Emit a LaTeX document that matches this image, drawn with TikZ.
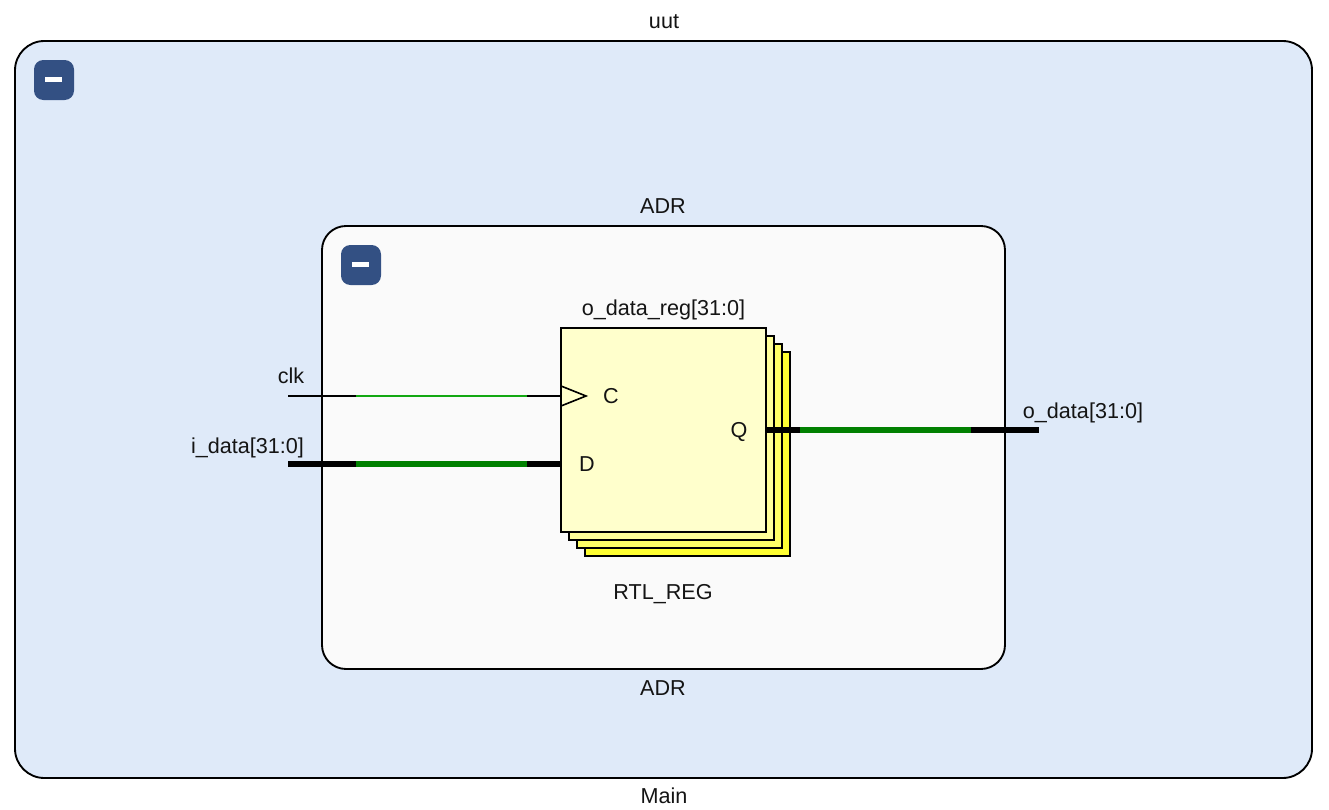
\documentclass[tikz,border=0pt]{standalone}
\usepackage{fontspec}
\setmainfont{Liberation Sans}
\definecolor{outerfill}{HTML}{DFEAF9}
\definecolor{innerfill}{HTML}{FAFAFA}
\definecolor{btn}{HTML}{335083}
\definecolor{reg1}{HTML}{FFFFCC}
\definecolor{reg2}{HTML}{FFFF99}
\definecolor{reg3}{HTML}{FFFF66}
\definecolor{reg4}{HTML}{FFFF33}
\definecolor{netthin}{HTML}{12A812}
\definecolor{netbus}{HTML}{008000}
\tikzset{
  x=0.75pt,y=-0.75pt,
  lbl/.style={font=\fontsize{16.2}{19}\selectfont,inner sep=0pt,text=black!92},
  group/.style={draw=black,line width=1.4pt},
  regbox/.style={draw=black,line width=1.5pt},
  wirethin/.style={line width=1.5pt,draw=black},
  wirebus/.style={line width=4.5pt,draw=black},
  greenthin/.style={line width=1.5pt,draw=netthin},
  greenbus/.style={line width=4.5pt,draw=netbus},
  btnbox/.style={fill=btn,rounded corners=7pt},
  btnbar/.style={fill=white}
}
\begin{document}
\begin{tikzpicture}
\useasboundingbox (0,0) rectangle (1329,810);
\fill[white] (0,0) rectangle (1329,810);
% groups
\draw[group,fill=outerfill,rounded corners=22pt] (15,41) rectangle (1312,778);
\draw[group,fill=innerfill,rounded corners=18pt] (322,226) rectangle (1005,669);
% collapse buttons
\fill[btnbox] (34,60) rectangle (74,100);
\fill[btnbar] (45,77) rectangle (62,82);
\fill[btnbox] (341,245) rectangle (381,285);
\fill[btnbar] (352,262) rectangle (369,267);
% stacked register
\draw[regbox,fill=reg4] (585,352) rectangle (790,556);
\draw[regbox,fill=reg3] (577,344) rectangle (782,548);
\draw[regbox,fill=reg2] (569,336) rectangle (774,540);
\node[regbox,fill=reg1,minimum width=153.75pt,minimum height=153pt,inner sep=0pt,outer sep=0pt,anchor=center] (reg) at (663.5,430) {};
% connection points
\coordinate (clkin) at (288,396);
\coordinate (clkg1) at (356,396);
\coordinate (clkg2) at (527,396);
\coordinate (clkpin) at (561,396);
\coordinate (din) at (288,464);
\coordinate (dg1) at (356,464);
\coordinate (dg2) at (527,464);
\coordinate (dpin) at (561,464);
\coordinate (qpin) at (766,430);
\coordinate (qg1) at (800,430);
\coordinate (qg2) at (971,430);
\coordinate (qout) at (1039,430);
% wires
\draw[wirethin] (clkin) -- (clkpin);
\draw[greenthin] (clkg1) -- (clkg2);
\draw[wirebus] (din) -- (dpin);
\draw[greenbus] (dg1) -- (dg2);
\draw[wirebus] (qpin) -- (qout);
\draw[greenbus] (qg1) -- (qg2);
% clock triangle
\draw[line width=1.2pt,line join=miter] (561,386) -- (586,396) -- (561,406);
% labels
\node[lbl] (uut) at (664,22) {uut};
\node[lbl] (main) at (664,796) {Main};
\node[lbl] (adrtop) at (663,206) {ADR};
\node[lbl] (adrbot) at (663,688) {ADR};
\node[lbl] (regname) at (663.5,309.5) {o\_data\_reg[31:0]};
\node[lbl] (rtl) at (663,594) {RTL\_REG};
\node[lbl] (c) at (611,396) {C};
\node[lbl] (d) at (587,464) {D};
\node[lbl] (q) at (739,431.5) {Q};
\node[lbl] (clk) at (291,376) {clk};
\node[lbl] (idata) at (247.5,447.5) {i\_data[31:0]};
\node[lbl] (odata) at (1083,412.5) {o\_data[31:0]};
\end{tikzpicture}
\end{document}
